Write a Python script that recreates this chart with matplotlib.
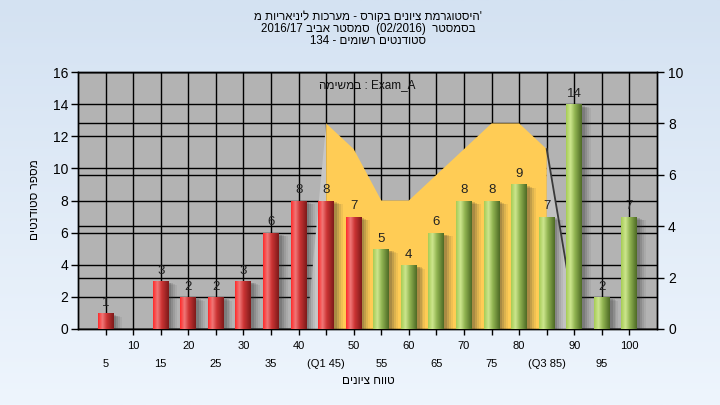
import numpy as np
import matplotlib
matplotlib.use("Agg")
import matplotlib.pyplot as plt
from matplotlib.colors import LinearSegmentedColormap
from matplotlib.patches import Polygon, Rectangle

plt.rcParams['font.family'] = ['Liberation Sans', 'DejaVu Sans']

# ---------------- data ----------------
grades = [5, 10, 15, 20, 25, 30, 35, 40, 45, 50, 55, 60, 65, 70, 75, 80, 85, 90, 95, 100]
counts = [1, 0, 3, 2, 2, 3, 6, 8, 8, 7, 5, 4, 6, 8, 8, 9, 7, 14, 2, 7]
pass_grade = 55

area_x = [45, 50, 55, 60, 65, 70, 75, 80, 85]
area_y = [8, 7, 5, 5, 6, 7, 8, 8, 7]

major_ticks = [10, 20, 30, 40, 50, 60, 70, 80, 90, 100]
major_labels = ["10", "20", "30", "40", "50", "60", "70", "80", "90", "100"]
minor_ticks = [5, 15, 25, 35, 45, 55, 65, 75, 85, 95]
minor_labels = ["5", "15", "25", "35", "(Q1 45)", "55", "65", "75", "(Q3 85)", "95"]

left_ticks = [0, 2, 4, 6, 8, 10, 12, 14, 16]
right_ticks = [0, 2, 4, 6, 8, 10]

# Hebrew strings (logical order) - reversed for left-to-right rendering
title1 = "'היסטוגרמת ציונים בקורס - מערכות ליניאריות מ"
title2_parts = ("2016/17 ", "סמסטר אביב", "  (02/2016)  ", "בסמסטר")
title3 = ("134 - ", "סטודנטים רשומים")
legend_he = "במשימה"
legend_en = " : Exam_A"
ylabel = "מספר סטודנטים"
xlabel = "טווח ציונים"


def vis(s):
    return s[::-1]


# ---------------- figure ----------------
fig = plt.figure(figsize=(7.2, 4.05), dpi=100)

# gradient background
bg = fig.add_axes([0, 0, 1, 1], zorder=-10)
grad = np.linspace(0, 1, 256).reshape(-1, 1)
bg_cmap = LinearSegmentedColormap.from_list("bg", ["#d4e2f2", "#eef5fd"])
bg.imshow(grad, aspect='auto', cmap=bg_cmap, extent=[0, 1, 0, 1], origin='upper')
bg.axis('off')

rect = [78 / 720, 1 - 329 / 405, (657 - 78) / 720, (329 - 72) / 405]
ax2 = fig.add_axes(rect, zorder=1)
ax = fig.add_axes(rect, zorder=2)
ax.patch.set_visible(False)
ax2.set_facecolor("#b3b3b3")

ax2.set_xlim(0, 105)
ax2.set_xticks([])
ax2.yaxis.tick_right()
ax2.set_ylim(0, 10)
ax2.set_yticks(right_ticks)
ax2.grid(axis='y', color='black', lw=1.0)
ax2.tick_params(axis='y', direction='out', length=5, width=1, labelsize=10, pad=3)

ax.set_axisbelow(True)
ax.grid(True, which='major', axis='y', color='black', lw=1.0)
ax.xaxis.grid(True, which='both', color='black', lw=1.0)

# yellow area (right axis scale), drawn in main axes below bars
verts = [(area_x[0], 0)] + list(zip(area_x, area_y)) + [(area_x[-1], 0)]
ax.add_patch(Polygon(verts, closed=True, transform=ax2.transData,
                     facecolor="#ffcc55", edgecolor='none', zorder=1.2))
# perspective sides
left_side = [(area_x[0], area_y[0]), (area_x[0] - 3.5, 0), (area_x[0], 0)]
ax.add_patch(Polygon(left_side, closed=True, transform=ax2.transData,
                     facecolor="#c6c6c6", edgecolor='none', zorder=1.1))
right_side = [(area_x[-1], area_y[-1]), (area_x[-1] + 5.5, 0), (area_x[-1], 0)]
ax.add_patch(Polygon(right_side, closed=True, transform=ax2.transData,
                     facecolor="#c2c2c2", edgecolor='none', zorder=1.1))
ax.plot([area_x[-1], area_x[-1] + 5.5], [area_y[-1], 0], transform=ax2.transData,
        color="#3a3a3a", lw=1.3, zorder=1.3)

# bars with gradient
red_cmap = LinearSegmentedColormap.from_list(
    "red", [(0, "#ff2a2a"), (0.28, "#f07878"), (0.55, "#cc3434"), (1, "#7e1a1a")])
green_cmap = LinearSegmentedColormap.from_list(
    "green", [(0, "#a6cc55"), (0.28, "#cde68e"), (0.55, "#92b552"), (1, "#4d6a25")])
hgrad = np.linspace(0, 1, 64).reshape(1, -1)
w = 2.9
for g, c in zip(grades, counts):
    if c <= 0:
        continue
    for k, a in enumerate([0.18, 0.14, 0.10, 0.07]):
        off = 0.5 + 0.35 * k
        ax.add_patch(Rectangle((g - w / 2 + off, -0.12 - 0.04 * k), w, c,
                               facecolor='#303030', alpha=a, edgecolor='none',
                               zorder=2))
    bar = ax.bar(g, c, width=w, color='none', edgecolor='none', zorder=3)[0]
    cmap = red_cmap if g < pass_grade else green_cmap
    im = ax.imshow(hgrad, extent=[g - w / 2, g + w / 2, 0, c], aspect='auto',
                   cmap=cmap, zorder=3, interpolation='bilinear')
    im.set_clip_path(bar)
    ax.annotate(str(c), (g, c), xytext=(0, 3), textcoords='offset points',
                ha='center', va='bottom', fontsize=9.5, color='#222222', zorder=5)

ax.set_xlim(0, 105)
ax.set_ylim(0, 16)
ax.set_aspect('auto')
ax.set_yticks(left_ticks)
ax.tick_params(axis='y', direction='out', length=5, width=1, labelsize=10, pad=2)
ax.set_xticks(major_ticks)
ax.set_xticklabels(major_labels)
ax.set_xticks(minor_ticks, minor=True)
ax.set_xticklabels(minor_labels, minor=True)
ax.tick_params(axis='x', which='major', direction='out', length=4, width=1,
               labelsize=8, pad=4.5)
ax.tick_params(axis='x', which='minor', direction='out', length=4, width=1,
               labelsize=8, pad=17.5)

for sp in list(ax.spines.values()) + list(ax2.spines.values()):
    sp.set_color('black')
    sp.set_linewidth(1)

ax.text(0.5, 0.95, vis(legend_he) + legend_en, transform=ax.transAxes,
        ha='center', va='center', fontsize=8.5, color='#111111', zorder=6)

cx = 368 / 720
fig.text(cx, 1 - 17 / 405, vis(title1), ha='center', va='center', fontsize=8.3)
fig.text(cx, 1 - 29 / 405,
         title2_parts[0] + vis(title2_parts[1]) + title2_parts[2] + vis(title2_parts[3]),
         ha='center', va='center', fontsize=8.3)
fig.text(cx, 1 - 41 / 405, title3[0] + vis(title3[1]), ha='center', va='center',
         fontsize=8.3)

fig.text(35 / 720, 1 - 200 / 405, vis(ylabel), rotation=90, ha='center',
         va='center', fontsize=8.5)
fig.text(368 / 720, 1 - 381 / 405, vis(xlabel), ha='center', va='center',
         fontsize=8.5)

fig.savefig("out.png", dpi=100)
